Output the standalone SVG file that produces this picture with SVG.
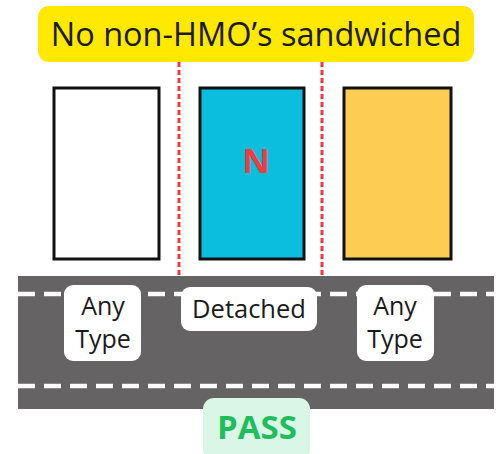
<svg xmlns="http://www.w3.org/2000/svg" width="501" height="454" viewBox="0 0 501 454">
<style>
.box{stroke:#111;stroke-width:3}
.sep{stroke:#f8353d;stroke-width:3;stroke-dasharray:5 3}
.lane{stroke:#fff;stroke-width:4.5;stroke-dasharray:17 9}
.tag{fill:#fff}
.t{font-family:"Open Sans","Noto Sans",sans-serif;fill:#1a1a1a;text-anchor:middle}
</style>
<rect x="0" y="0" width="501" height="454" fill="#fff"/>
<g id="banner">
<rect x="38" y="6" width="436" height="56" rx="11" fill="#ffe900"/>
<text class="t" x="256" y="46" font-size="32.5">No non-HMO’s sandwiched</text>
</g>
<g id="road">
<rect x="18" y="276" width="476" height="133" fill="#656364"/>
<line class="lane" x1="18" y1="294" x2="494" y2="294"/>
<line class="lane" x1="18" y1="386" x2="494" y2="386"/>
</g>
<g id="connectors">
<line class="sep" x1="179" y1="62" x2="179" y2="275"/>
<line class="sep" x1="322" y1="62" x2="322" y2="275"/>
</g>
<g id="house-left">
<rect class="box" x="54" y="88" width="105" height="171" fill="#fff"/>
</g>
<g id="house-middle">
<rect class="box" x="200" y="88" width="104" height="171" fill="#0cbede"/>
<text x="256" y="173" font-family="'Open Sans','Noto Sans',sans-serif" font-weight="bold" font-size="34" fill="#f33a3e" text-anchor="middle">N</text>
</g>
<g id="house-right">
<rect class="box" x="344" y="88" width="107" height="171" fill="#fccd52"/>
</g>
<g id="label-left">
<rect class="tag" x="64" y="285" width="77" height="76" rx="9"/>
<text class="t" x="103" y="315" font-size="25">Any</text>
<text class="t" x="103" y="348" font-size="25">Type</text>
</g>
<g id="label-middle">
<rect class="tag" x="181" y="287" width="136" height="44" rx="9"/>
<text class="t" x="249" y="318" font-size="25.5">Detached</text>
</g>
<g id="label-right">
<rect class="tag" x="357" y="285" width="77" height="76" rx="9"/>
<text class="t" x="395" y="315" font-size="25">Any</text>
<text class="t" x="395" y="348" font-size="25">Type</text>
</g>
<g id="pass">
<rect x="203" y="398" width="107" height="62" rx="11" fill="#d9f6e7"/>
<text x="257" y="439" font-family="'Open Sans','Noto Sans',sans-serif" font-weight="bold" font-size="33" fill="#1fbd5c" text-anchor="middle">PASS</text>
</g>
</svg>
